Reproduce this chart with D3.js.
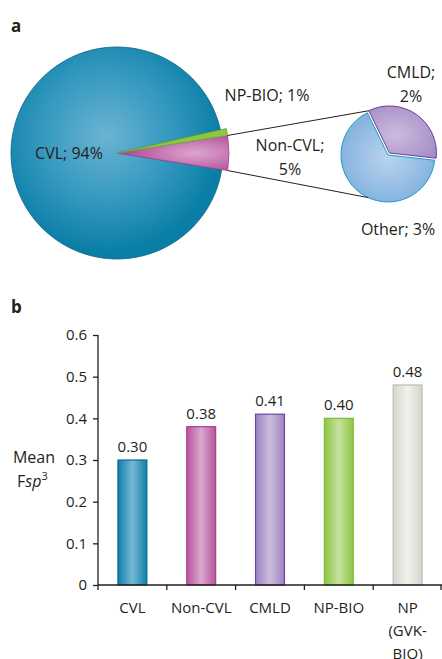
<!DOCTYPE html>
<html><head><meta charset="utf-8">
<script src="https://cdn.jsdelivr.net/npm/d3@7"></script>
<style>
body{margin:0;background:#fff}
text{font-family:"Open Sans",sans-serif;fill:#231f20}
</style>
</head><body>
<svg id="c" width="442" height="659"></svg>
<script>
// ---------- data ----------
const pieCategories = ["Non-CVL", "CVL", "NP-BIO"];
const pieValues = [5, 94, 1];
const subCategories = ["CMLD", "Other"];
const subValues = [1.7, 3.3];
const subLabelText = ["CMLD;", "2%", "Other; 3%"];
const pieLabelText = ["CVL; 94%", "NP-BIO; 1%", "Non-CVL;", "5%"];
const barCategories = ["CVL", "Non-CVL", "CMLD", "NP-BIO", "NP (GVK-BIO)"];
const barLabelLines = [["CVL"], ["Non-CVL"], ["CMLD"], ["NP-BIO"], ["NP", "(GVK-", "BIO)"]];
const barValues = [0.30, 0.38, 0.41, 0.40, 0.48];
const yTicks = [0, 0.1, 0.2, 0.3, 0.4, 0.5, 0.6];

// ---------- setup ----------
const svg = d3.select("#c");
const defs = svg.append("defs");
const deg = Math.PI / 180;

function radial(id, inner, outer, cx, cy, r) {
  const g = defs.append("radialGradient").attr("id", id)
    .attr("cx", cx || "50%").attr("cy", cy || "50%").attr("r", r || "50%");
  g.append("stop").attr("offset", "0%").attr("stop-color", inner);
  g.append("stop").attr("offset", "100%").attr("stop-color", outer);
}
function horiz(id, edge, mid) {
  const g = defs.append("linearGradient").attr("id", id)
    .attr("x1", "0%").attr("x2", "100%").attr("y1", "0%").attr("y2", "0%");
  g.append("stop").attr("offset", "0%").attr("stop-color", edge);
  g.append("stop").attr("offset", "50%").attr("stop-color", mid);
  g.append("stop").attr("offset", "100%").attr("stop-color", edge);
}
// big pie gradient
{
  const g = defs.append("radialGradient").attr("id", "gCVL").attr("cx", "45%").attr("cy", "42%").attr("r", "55%");
  g.append("stop").attr("offset", "0%").attr("stop-color", "#6cb3d2");
  g.append("stop").attr("offset", "55%").attr("stop-color", "#3599c0");
  g.append("stop").attr("offset", "100%").attr("stop-color", "#0a7ea6");
}
radial("gPink", "#dca7cf", "#b24f99", "70%", "50%", "60%");
radial("gSubBlue", "#bad4ee", "#86b4df");
radial("gSubPurple", "#cdbbdd", "#a58bc6", "40%", "55%", "70%");

horiz("b0", "#0c7fa6", "#78b9d6");
horiz("b1", "#b8539e", "#daa8cd");
horiz("b2", "#9e84c0", "#cbbbdc");
horiz("b3", "#8cc541", "#c6e2a1");
horiz("b4", "#d5d5cd", "#f2f2ed");
const barStroke = ["#0a6a8e", "#a9408e", "#6b45a0", "#7cba3a", "#bdbdb5"];

// ---------- panel a ----------
svg.append("text").attr("x", 11).attr("y", 32).style("font-weight", "bold").style("font-size", "17px").text("a");

const cx = 117, cy = 153, R = 106, Rs = 112;
const pie = d3.pie().sort(null).startAngle(81 * deg).endAngle(81 * deg + 2 * Math.PI);
const arcsBig = pie(pieValues);
const fills = ["url(#gPink)", "url(#gCVL)", "#8dc63f"];
const strokes = ["#a8408d", "#0a6488", "#6aa832"];
const gBig = svg.append("g").attr("transform", `translate(${cx},${cy})`);
gBig.selectAll("path").data(arcsBig).join("path")
  .attr("d", (d, i) => d3.arc().innerRadius(0).outerRadius(pieCategories[i] === "CVL" ? R : Rs)(d))
  .attr("fill", (d, i) => fills[i])
  .attr("stroke", (d, i) => strokes[i])
  .attr("stroke-width", 0.8);
// keep small slices on top
gBig.selectAll("path").filter((d, i) => pieCategories[i] !== "CVL").raise();

// small pie
const sx = 388, sy = 155, sr = 47;
const subPie = d3.pie().sort(null).startAngle(-26 * deg).endAngle(-26 * deg + 2 * Math.PI);
const arcsSub = subPie(subValues);
const gSub = svg.append("g").attr("transform", `translate(${sx},${sy})`);
const subArc = d3.arc().innerRadius(0).outerRadius(sr);
gSub.selectAll("path").data(arcsSub).join("path")
  .attr("transform", (d, i) => {
    if (i !== 0) return null;
    const m = (d.startAngle + d.endAngle) / 2, off = 2.5;
    return `translate(${off * Math.sin(m)},${-off * Math.cos(m)})`;
  })
  .attr("d", subArc)
  .attr("fill", (d, i) => i === 0 ? "url(#gSubPurple)" : "url(#gSubBlue)")
  .attr("stroke", (d, i) => i === 0 ? "#6a3d9a" : "#1d9bc4")
  .attr("stroke-width", 1);
// white separators
gSub.selectAll("line.sep").data([arcsSub[0].startAngle, arcsSub[0].endAngle]).join("line")
  .attr("x1", 0).attr("y1", 0)
  .attr("x2", a => sr * Math.sin(a)).attr("y2", a => -sr * Math.cos(a))
  .attr("stroke", "#fff").attr("stroke-width", 2).lower();

// connector lines
const pink = arcsBig[0];
const pt = (x0, y0, r, a) => [x0 + r * Math.sin(a), y0 - r * Math.cos(a)];
const p1 = pt(cx, cy, Rs, pink.startAngle), p2 = pt(cx, cy, Rs, pink.endAngle);
const m0 = (arcsSub[0].startAngle + arcsSub[0].endAngle) / 2;
const q1 = pt(sx + 2.5 * Math.sin(m0), sy - 2.5 * Math.cos(m0), sr, arcsSub[0].startAngle);
const q2 = pt(sx, sy, sr, 205 * deg);
svg.append("line").attr("x1", p1[0]).attr("y1", p1[1]).attr("x2", q1[0]).attr("y2", q1[1]).attr("stroke", "#231f20").attr("stroke-width", 1);
svg.append("line").attr("x1", p2[0]).attr("y1", p2[1]).attr("x2", q2[0]).attr("y2", q2[1]).attr("stroke", "#231f20").attr("stroke-width", 1);

// pie labels
const lab = (x, y, t, anchor) => svg.append("text").attr("x", x).attr("y", y)
  .attr("text-anchor", anchor || "middle").style("font-size", "16px").text(t);
lab(69, 159, pieLabelText[0]);
lab(267, 101, pieLabelText[1]);
lab(290, 151, pieLabelText[2]);
lab(290, 175, pieLabelText[3]);
lab(411, 78, subLabelText[0]);
lab(411, 102, subLabelText[1]);
lab(398, 235, subLabelText[2]);

// ---------- panel b ----------
svg.append("text").attr("x", 11).attr("y", 313).style("font-weight", "bold").style("font-size", "17px").text("b");

const x = d3.scaleBand().domain(barCategories).range([98, 442]).paddingInner(0.58).paddingOuter(0.29);
const y = d3.scaleLinear().domain([0, 0.6]).range([585, 335]);

svg.append("g").selectAll("rect").data(barValues).join("rect")
  .attr("x", (d, i) => x(barCategories[i]))
  .attr("y", d => y(d))
  .attr("width", x.bandwidth())
  .attr("height", d => y(0) - y(d))
  .attr("fill", (d, i) => `url(#b${i})`)
  .attr("stroke", (d, i) => barStroke[i])
  .attr("stroke-width", 1.2);

svg.append("g").selectAll("text").data(barValues).join("text")
  .attr("x", (d, i) => x(barCategories[i]) + x.bandwidth() / 2)
  .attr("y", d => y(d) - 8)
  .attr("text-anchor", "middle").style("font-size", "15px")
  .text(d => d3.format(".2f")(d));

// y axis
const yAxis = svg.append("g").attr("transform", "translate(98,0)")
  .call(d3.axisLeft(y).tickValues(yTicks).tickSize(5).tickPadding(6)
    .tickFormat(d => d === 0 ? "0" : d3.format(".1f")(d)));
yAxis.select(".domain").attr("stroke", "#231f20").attr("stroke-width", 1.3).attr("d", `M0,${y(0.6)}V${y(0)}`);
yAxis.selectAll(".tick line").attr("stroke", "#231f20").attr("stroke-width", 1.3);
yAxis.selectAll(".tick text").style("font-size", "15px").style("font-family", '"Open Sans",sans-serif').attr("fill", "#231f20");

// x axis
const step = x.step();
svg.append("line").attr("x1", 98).attr("x2", 442).attr("y1", y(0)).attr("y2", y(0)).attr("stroke", "#231f20").attr("stroke-width", 1.5);
const bounds = barCategories.map(c => x(c) - step * x.paddingOuter()).concat([441]);
svg.append("g").selectAll("line").data(bounds).join("line")
  .attr("x1", d => d).attr("x2", d => d).attr("y1", y(0)).attr("y2", y(0) + 5)
  .attr("stroke", "#231f20").attr("stroke-width", 1.3);
const xl = svg.append("g").selectAll("text").data(barCategories).join("text")
  .attr("x", c => x(c) + x.bandwidth() / 2).attr("y", 613)
  .attr("text-anchor", "middle").style("font-size", "15px");
xl.each(function (c, i) {
  d3.select(this).selectAll("tspan").data(barLabelLines[i]).join("tspan")
    .attr("x", x(c) + x.bandwidth() / 2).attr("dy", (t, j) => j === 0 ? 0 : 23).text(t => t);
});

// y label
svg.append("text").attr("x", 34).attr("y", 463).attr("text-anchor", "middle").style("font-size", "16px").text("Mean");
const fl = svg.append("text").attr("x", 17).attr("y", 487).style("font-size", "16px");
fl.append("tspan").text("F");
fl.append("tspan").style("font-style", "italic").text("sp");
fl.append("tspan").attr("dy", -7).style("font-size", "11px").text("3");
</script>
</body></html>
